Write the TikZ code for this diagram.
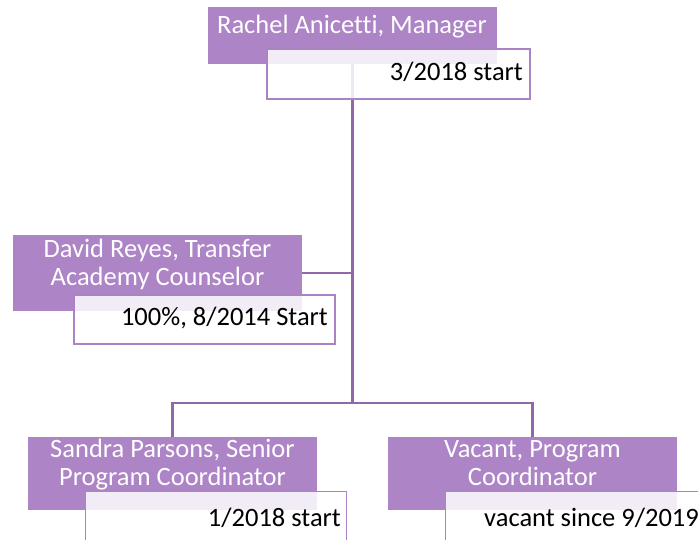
\documentclass[tikz,border=0pt]{standalone}
\usepackage{fontspec}
\setmainfont[Ligatures=NoCommon]{Carlito}
\definecolor{pfill}{HTML}{AD84C6}
\definecolor{pline}{HTML}{8E68A8}
\definecolor{wborder}{HTML}{A983C4}
\begin{document}
\begin{tikzpicture}[x=1pt,y=-1pt,
  conn/.style={draw=pline, line width=2.5pt},
  pbox/.style={fill=pfill, draw=none, inner sep=0pt, outer sep=0pt, minimum width=289pt, minimum height=#1},
  wbox/.style={fill=white, fill opacity=0.85, draw=wborder, line width=1.5pt, inner sep=0pt, outer sep=0pt, minimum width=261pt, minimum height=49pt},
  ptext/.style={text=white, inner sep=0pt, anchor=base, font=\fontsize{26.5}{30}\selectfont},
  wtext/.style={text=black, inner sep=0pt, anchor=base east, font=\fontsize{26.5}{30}\selectfont}]
\clip (0,0) rectangle (698,540);
% purple boxes
\node[pbox=57pt] (m) at (352.5,35.5) {};
\node[pbox=76pt] (d) at (157.5,273) {};
\node[pbox=73pt] (s) at (172.5,473.5) {};
\node[pbox=73pt] (v) at (532.5,473.5) {};
% connectors
\coordinate (bus) at (352.5,403);
\draw[conn] (m.south) -- (bus);
\draw[conn] (d.east) -- (d.east -| bus);
\draw[conn] (s.north) |- (bus) -| (v.north);
% white boxes
\node[wbox, minimum width=263pt, minimum height=50pt] (mw) at (398.5,74) {};
\node[wbox] (dw) at (204.5,319.5) {};
\node[wbox] (sw) at (216,516) {};
\node[wbox] (vw) at (576,516) {};
% texts
\node[ptext] (mt) at (352,33.5) {Rachel Anicetti, Manager};
\node[wtext] (mwt) at (523,81) {3/2018 start};
\node[ptext] (dt1) at (157.5,257) {David Reyes, Transfer};
\node[ptext] (dt2) at (157.5,285) {Academy Counselor};
\node[wtext] (dwt) at (328,325) {100\%, 8/2014 Start};
\node[ptext] (st1) at (172.5,457) {Sandra Parsons, Senior};
\node[ptext] (st2) at (172.5,485) {Program Coordinator};
\node[wtext] (swt) at (341,526) {1/2018 start};
\node[ptext] (vt1) at (532.5,457) {Vacant, Program};
\node[ptext] (vt2) at (532.5,485) {Coordinator};
\node[wtext, anchor=base west] (vwt) at (484,526) {vacant since 9/2019};
\end{tikzpicture}
\end{document}
